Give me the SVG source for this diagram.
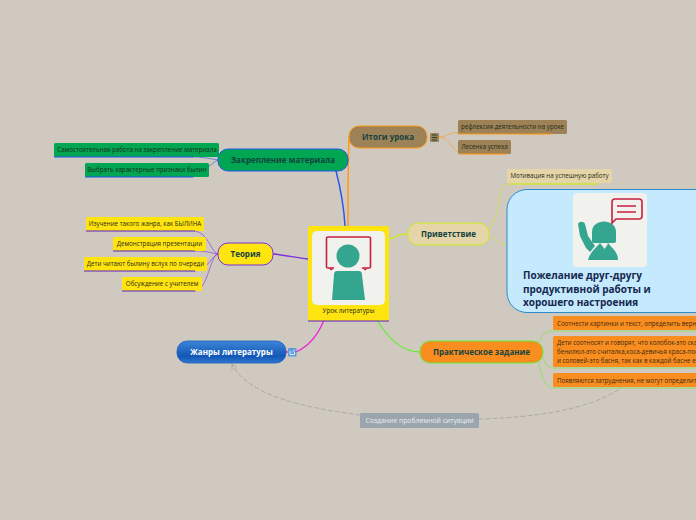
<svg xmlns="http://www.w3.org/2000/svg" width="696" height="520" viewBox="0 0 696 520">
<style>
text{font-family:"Open Sans","Noto Sans","Liberation Sans",sans-serif}
.t{font-size:8px;font-weight:700;fill:#14433f;text-anchor:middle}
.s{font-size:6.2px;fill:#1f2a1a;text-anchor:middle}
.l{font-size:6.2px;fill:#3a2a10}
.c{fill:none;stroke-linecap:round}
.thin{stroke-width:.8;opacity:.75}
.main{stroke-width:1.3}
.teal{fill:#34a58f}
.red{fill:none;stroke:#c8203f;stroke-width:1.6}
</style>
<defs>
<linearGradient id="blue" x1="0" y1="0" x2="0" y2="1"><stop offset="0" stop-color="#3d85d8"/><stop offset=".7" stop-color="#1257b5"/><stop offset="1" stop-color="#2f78cf"/></linearGradient>
<marker id="arr" viewBox="0 0 8 8" refX="7" refY="4" markerWidth="7" markerHeight="7" markerUnits="userSpaceOnUse" orient="auto"><path d="M1 1L7 4L1 7" fill="none" stroke="#aaaaa4" stroke-width="1"/></marker>
</defs>
<rect width="696" height="520" fill="#d0c9bf"/>
<g id="connectors">
<path class="c" d="M336 171C341 190 344 208 345 226" stroke="#2255ee" stroke-width="1.4"/>
<path class="c" d="M349 137C348 160 348 200 348 226" stroke="#ff9a1a" stroke-width="1.5"/>
<path class="c main" d="M273 254C285 255 297 258 308 259" stroke="#7a2fe0"/>
<path class="c main" d="M389 240C395 236 402 234 408 234" stroke="#ccee22"/>
<path class="c main" d="M324 320C316 340 305 348 296 352" stroke="#ee22dd"/>
<path class="c main" d="M286 352L288 352" stroke="#ee22dd"/>
<path class="c main" d="M377 320C388 338 402 352 420 352" stroke="#66ee33"/>
<path class="c thin" d="M218 160C208 158 200 157 193 157" stroke="#2255ee"/>
<path class="c thin" d="M218 160C212 162 200 177 193 177" stroke="#2255ee"/>
<path class="c thin" d="M218 254C212 254 208 232 195 231" stroke="#7a2fe0"/>
<path class="c thin" d="M218 254C214 254 210 251 195 251" stroke="#7a2fe0"/>
<path class="c thin" d="M218 254C212 254 208 271 195 271" stroke="#7a2fe0"/>
<path class="c thin" d="M218 254C210 254 208 291 195 291" stroke="#7a2fe0"/>
<path class="c thin" d="M439 137C446 137 448 134 452 133C456 132 500 134 552 134" stroke="#ff9a1a"/>
<path class="c thin" d="M439 137C452 137 450 154 467 154L506 154" stroke="#ff9a1a"/>
<path class="c thin" d="M489 230C504 210 494 184 510 184L598 184" stroke="#ccee22" stroke-width="1"/>
<path class="c thin" d="M489 234C494 240 500 244 507 245" stroke="#ccee22"/>
<path class="c thin" d="M540 341C543 333 546 331 553 331L696 331" stroke="#66ee33"/>
<path class="c thin" d="M541 350C543 360 546 368 553 368L696 368" stroke="#66ee33"/>
<path class="c thin" d="M539 363C542 380 546 388 553 388L696 388" stroke="#66ee33"/>
<path class="c" d="M360 415C300 407 248 395 232 364" stroke="#aaaaa4" stroke-width="1" stroke-dasharray="4 3" marker-end="url(#arr)"/>
<path class="c" d="M479 419C530 418 590 410 621 388" stroke="#aaaaa4" stroke-width="1" stroke-dasharray="4 3"/>
</g>
<g id="center">
<rect x="308" y="226" width="81" height="95" rx="2" fill="#ffe40f"/>
<path d="M308 321H389" stroke="#5a1fd0" stroke-width="1.2"/>
<rect x="312" y="231" width="73" height="74" rx="5" fill="#f1f1ee"/>
<path class="red" d="M334 268H328Q326.500 268 326.500 267V238Q326.500 237 328 237H369Q370.500 237 370.500 238V267Q370.500 268 369 268H362"/>
<path d="M329 268.500H334L331 270.500ZM363 268.500H368L365 270.500Z" fill="#c8203f"/>
<circle class="teal" cx="348" cy="256" r="11.500"/>
<path class="teal" d="M337 271H359Q362 271 362 275L365 300H332L334 275Q334 271 337 271Z"/>
<text class="s" x="348.500" y="313">Урок литературы</text>
</g>
<g id="zakreplenie">
<rect x="218" y="149" width="130" height="22" rx="10" fill="#00a651" stroke="#2255ee" stroke-width="1"/>
<text class="t" x="283" y="163">Закрепление материала</text>
</g>
<g id="z1"><rect x="54" y="143" width="165" height="14" rx="1.500" fill="#00a651"/><path d="M54 157H193" stroke="#2255ee"/><text class="s" x="137" y="152">Самостоятельная работа на закрепление материала</text></g>
<g id="z2"><rect x="85" y="163" width="124" height="14" rx="1.500" fill="#00a651"/><path d="M85 177H193" stroke="#2255ee"/><text class="s" x="147" y="172">Выбрать характерные признаки былин</text></g>
<g id="teoria">
<rect x="218" y="243" width="55" height="22" rx="10" fill="#ffe40f" stroke="#7a2fe0" stroke-width="1"/>
<text class="t" x="245.500" y="257">Теория</text>
</g>
<g id="t1"><rect x="86" y="217" width="118" height="14" rx="1.500" fill="#ffe40f"/><path d="M86 231H195" stroke="#5a1fd0"/><text class="s" x="145" y="226">Изучение такого жанра, как БЫЛИНА</text></g>
<g id="t2"><rect x="113" y="237" width="93" height="14" rx="1.500" fill="#ffe40f"/><path d="M113 251H195" stroke="#5a1fd0"/><text class="s" x="159.500" y="246">Демонстрация презентации</text></g>
<g id="t3"><rect x="84" y="257" width="123" height="14" rx="1.500" fill="#ffe40f"/><path d="M84 271H195" stroke="#5a1fd0"/><text class="s" x="145.500" y="266">Дети читают былину вслух по очереди</text></g>
<g id="t4"><rect x="122" y="277" width="80" height="14" rx="1.500" fill="#ffe40f"/><path d="M122 291H195" stroke="#5a1fd0"/><text class="s" x="162" y="286">Обсуждение с учителем</text></g>
<g id="itogi">
<rect x="349" y="126" width="78" height="22" rx="10" fill="#9c8256" stroke="#ff9a1a" stroke-width="1"/>
<text class="t" x="388" y="140">Итоги урока</text>
<rect x="430" y="133" width="9" height="9" rx="1" fill="#9c8256"/>
<path d="M432 135H437M432 137.500H437M432 140H437" stroke="#1c3a30" stroke-width=".9"/>
</g>
<g id="i1"><rect x="458" y="120" width="109" height="14" rx="1.500" fill="#9c8256"/><path d="M458 134H552" stroke="#ff9a1a"/><text class="s" x="512.500" y="129">рефлексия деятельности на уроке</text></g>
<g id="i2"><rect x="458" y="140" width="53" height="14" rx="1.500" fill="#9c8256"/><path d="M458 154H506" stroke="#ff9a1a"/><text class="s" x="484.500" y="149">Лесенка успеха</text></g>
<g id="privet">
<rect x="408" y="223" width="81" height="22" rx="10" fill="#e6d5a8" stroke="#ccee22" stroke-width="1"/>
<text class="t" x="448.500" y="237">Приветствие</text>
</g>
<g id="p1"><rect x="507" y="169" width="105" height="14" rx="1.500" fill="#e6d5a8"/><path d="M510 184H598" stroke="#ccee22"/><text class="s" x="559.500" y="178">Мотивация на успешную работу</text></g>
<g id="p2">
<rect x="507" y="189.500" width="230" height="123" rx="20" fill="#c5e9fd" stroke="#2b8ccc" stroke-width="1"/>
<rect x="573" y="193" width="74" height="74" rx="4" fill="#f1f1ee"/>
<path class="teal" d="M578 224C579 221 584 221 585 224L588 236L595 246L590 252L586 248L580 236Z"/>
<path class="teal" d="M592 232C592 218 616 218 616 232V241C616 243 614 243 612 243H596C593 243 592 243 592 241Z"/>
<path class="teal" d="M588 260C590 252 596 248 600 243L604 247L608 243C612 248 618 252 618 260Z"/>
<path d="M601 244L608 244L604.500 249Z" fill="#f1f1ee"/>
<path d="M612 223V202Q612 199 615 199H639Q642 199 642 202V216Q642 219 639 219H616Z" fill="#f1f1ee" stroke="#c8203f" stroke-width="1.600"/>
<path d="M617 206H636M617 212H636" stroke="#c8203f" stroke-width="1.500"/>
<g font-size="10" font-weight="700" fill="#14274f"><text x="523" y="279">Пожелание друг-другу</text><text x="523" y="293">продуктивной работы и</text><text x="523" y="306">хорошего настроения</text></g>
</g>
<g id="prak">
<rect x="420" y="341" width="123" height="22" rx="10" fill="#f98d1f" stroke="#66ee33" stroke-width="1"/>
<text class="t" x="481.500" y="355">Практическое задание</text>
</g>
<g id="pr1"><rect x="553" y="316" width="160" height="14" rx="1.500" fill="#f98d1f"/><text class="l" x="557" y="325.500">Соотнести картинки и текст, определить верный</text></g>
<g id="pr2"><rect x="553" y="336" width="160" height="31" rx="1.500" fill="#f98d1f"/><text class="l" x="557" y="345">Дети соотносят и говорят, что колобок-это сказка</text><text class="l" x="557" y="354">бенилюл-это считалка,коса-девичья краса-пословица</text><text class="l" x="557" y="362.500">и соловей-это басня, так как в каждой басне есть</text></g>
<g id="pr3"><rect x="553" y="373" width="160" height="14" rx="1.500" fill="#f98d1f"/><text class="l" x="557" y="382.500">Появляются затруднения, не могут определить</text></g>
<g id="zhanry">
<rect x="177" y="341" width="109" height="22" rx="10" fill="url(#blue)" stroke="#1a5fc0" stroke-width=".8"/>
<text class="t" x="231.500" y="355" style="fill:#fff">Жанры литературы</text>
<rect x="288" y="348" width="8.500" height="8.500" rx="1" fill="#5a9ad8"/>
<path d="M290 350.500V354.500H294.500V352M292 352.500L295 349.500" fill="none" stroke="#fff" stroke-width=".8"/>
</g>
<g id="sozdanie">
<rect x="360" y="413" width="119" height="15" rx="1.500" fill="#9aa5ad"/>
<text x="419.500" y="423" font-size="6.800" fill="#eef0f0" text-anchor="middle">Создание проблемной ситуации</text>
</g>
</svg>
